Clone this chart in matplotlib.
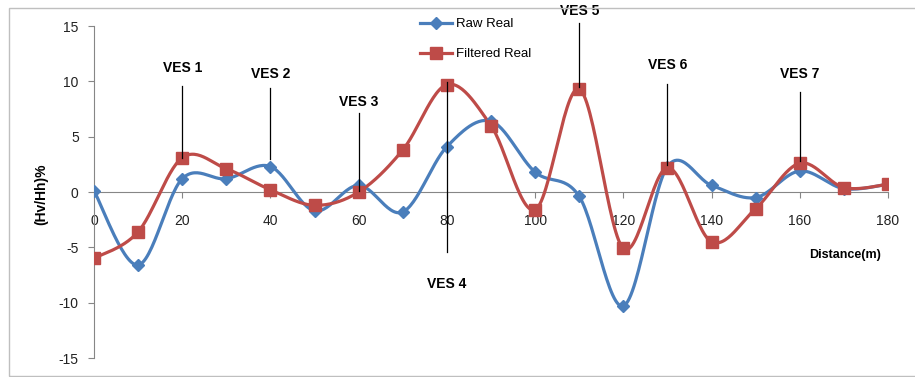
import matplotlib.pyplot as plt
from matplotlib.patches import Rectangle
import numpy as np

distance = [0, 10, 20, 30, 40, 50, 60, 70, 80, 90, 100, 110, 120, 130, 140, 150, 160, 170, 180]
raw_real = [0.1, -6.6, 1.2, 1.2, 2.3, -1.7, 0.6, -1.8, 4.1, 6.4, 1.8, -0.4, -10.3, 2.3, 0.6, -0.5, 1.9, 0.3, 0.7]
filtered_real = [-6.0, -3.6, 3.1, 2.1, 0.2, -1.2, 0.0, 3.8, 9.7, 6.0, -1.6, 9.3, -5.1, 2.2, -4.5, -1.5, 2.6, 0.4, 0.7]

ves_names = ["VES 1", "VES 2", "VES 3", "VES 4", "VES 5", "VES 6", "VES 7"]
ves_x = [20, 40, 60, 80, 110, 130, 160]
ves_top = [9.6, 9.4, 7.1, 9.9, 15.3, 9.8, 9.0]
ves_bottom = [3.1, 3.0, 0.1, -5.4, 9.5, 2.4, 2.8]
ves_label_y = [11.2, 10.7, 8.1, -8.3, 16.4, 11.5, 10.7]


def smooth(x, y, n=30):
    # excel-like smoothed line (bezier through the points, 1/6 tangents)
    x = np.asarray(x, float)
    y = np.asarray(y, float)
    px = np.concatenate([[x[0]], x, [x[-1]]])
    py = np.concatenate([[y[0]], y, [y[-1]]])
    t = np.linspace(0, 1, n)[:, None]
    xs, ys = [], []
    for i in range(1, len(px) - 2):
        p0 = np.array([px[i], py[i]])
        p3 = np.array([px[i + 1], py[i + 1]])
        c1 = p0 + (p3 - np.array([px[i - 1], py[i - 1]])) / 6
        c2 = p3 - (np.array([px[i + 2], py[i + 2]]) - p0) / 6
        b = (1 - t) ** 3 * p0 + 3 * (1 - t) ** 2 * t * c1 + 3 * (1 - t) * t ** 2 * c2 + t ** 3 * p3
        xs.append(b[:, 0])
        ys.append(b[:, 1])
    return np.concatenate(xs), np.concatenate(ys)


plt.rcParams["font.family"] = ["Liberation Sans", "DejaVu Sans"]
plt.rcParams["axes.unicode_minus"] = False
narrow = ["Liberation Sans Narrow", "Liberation Sans", "DejaVu Sans"]
blue = "#4A7EBB"
red = "#BE4B48"
grey = "#868686"

fig = plt.figure(figsize=(9.15, 3.77), dpi=100)
ax = fig.add_axes([94 / 915, 1 - 358 / 377, (888 - 94) / 915, (358 - 26) / 377])

sx, sy = smooth(distance, raw_real)
ax.plot(sx, sy, color=blue, linewidth=2.3, zorder=3)
ax.plot(distance, raw_real, linestyle="none", marker="D", markersize=6, color=blue, zorder=4)
fx, fy = smooth(distance, filtered_real)
ax.plot(fx, fy, color=red, linewidth=2.3, zorder=3)
ax.plot(distance, filtered_real, linestyle="none", marker="s", markersize=8, color=red, zorder=5)

ax.plot([], [], color=blue, linewidth=2.3, marker="D", markersize=6, label="Raw Real")
ax.plot([], [], color=red, linewidth=2.3, marker="s", markersize=8, label="Filtered Real")

for name, x, top, bot, ly in zip(ves_names, ves_x, ves_top, ves_bottom, ves_label_y):
    ax.plot([x, x], [bot, top], color="black", linewidth=0.9, zorder=6, clip_on=False)
    ax.text(x, ly, name, ha="center", va="center", fontsize=10, fontweight="bold",
            family=narrow, clip_on=False)

ax.set_xlim(0, 180)
ax.set_ylim(-15, 15)
ax.set_xticks(np.arange(0, 181, 20))
ax.set_yticks(np.arange(-15, 16, 5))
ax.spines["bottom"].set_position(("data", 0))
ax.spines["top"].set_visible(False)
ax.spines["right"].set_visible(False)
ax.spines["left"].set_color(grey)
ax.spines["bottom"].set_color(grey)
ax.tick_params(axis="both", colors=grey, labelcolor="#222222", labelsize=10, length=4)
ax.tick_params(axis="x", direction="out", pad=12)
ax.tick_params(axis="y", direction="out", pad=7)

ax.legend(loc="upper left", bbox_to_anchor=(420 / 915, 1 - 18 / 377), bbox_transform=fig.transFigure,
          frameon=False, fontsize=9.5, labelspacing=1.35, handlelength=2.4, handletextpad=0.3,
          borderpad=0, borderaxespad=0)

fig.text(41 / 915, 1 - 194 / 377, "(Hv/Hh)%", rotation=90, ha="center", va="center",
         fontsize=10, fontweight="bold")
fig.text(845 / 915, 1 - 255 / 377, "Distance(m)", ha="center", va="center",
         fontsize=9, fontweight="bold")

fig.patches.append(Rectangle((9 / 915, 1 / 377), 1, 1 - 9 / 377, transform=fig.transFigure,
                             fill=False, edgecolor="#BFBFBF", linewidth=1))

fig.savefig("out.png", dpi=100)
